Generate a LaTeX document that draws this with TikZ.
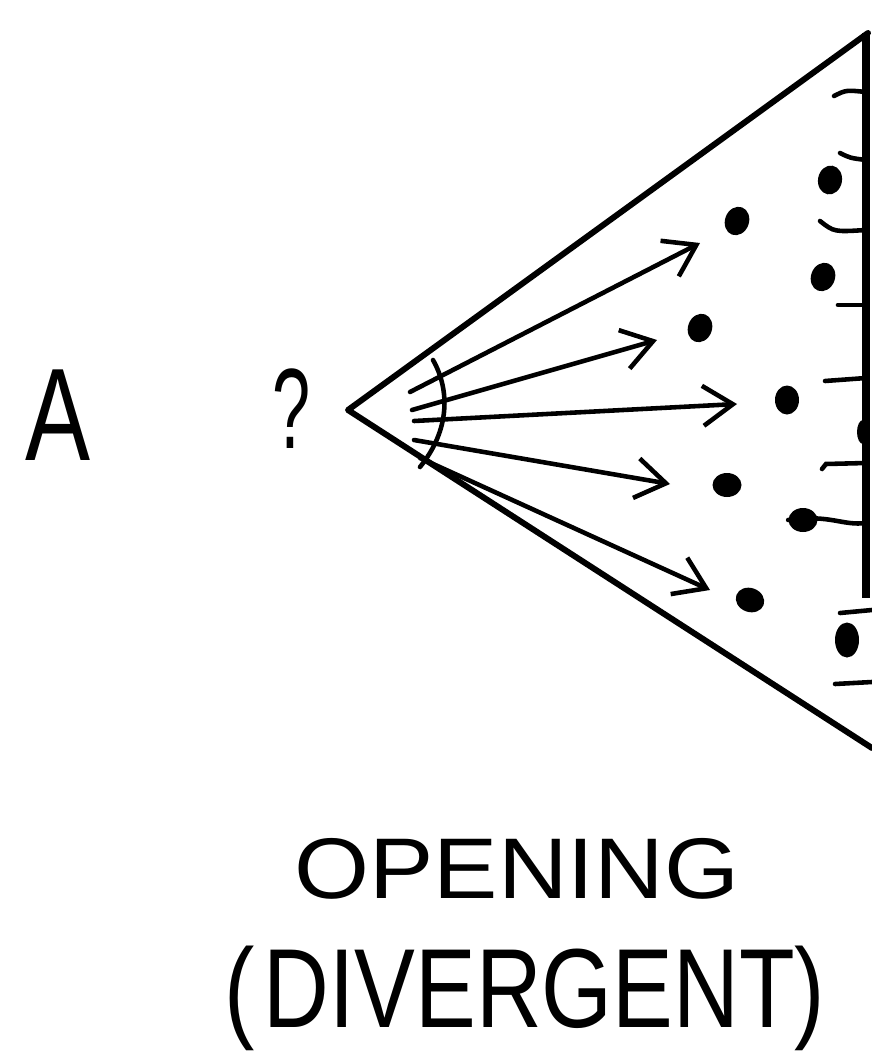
\documentclass[tikz,border=0pt]{standalone}
\usepackage{fontspec}
\setmainfont{Liberation Sans}
\usetikzlibrary{
    arrows.meta,
    shapes.geometric,
}
\tikzset{
    % Outline styles
    cone line/.style={line width=3.4pt, line cap=round, line join=round},
    wall line/.style={line width=5pt},
    wall tick/.style={line width=2.6pt, line cap=round},
    % Arrow styles
    ray/.style={line width=2.6pt, line cap=round,
                -{Straight Barb[length=6mm, width=8mm]}},
    % Dot styles
    blob/.style={ellipse, fill=black, inner sep=0pt,
                 minimum width=4.8mm, minimum height=5.8mm},
    % Text styles
    hand/.style={inner sep=0pt, anchor=base},
}

\begin{document}
\begin{tikzpicture}[x=0.02cm, y=-0.02cm]
    \useasboundingbox (0,0) rectangle (872,1058);

    % Cone
    \coordinate (apex) at (348,410);
    \coordinate (cone top) at (868,33);
    \coordinate (cone bottom) at (872,748);
    \draw[cone line] (cone top) -- (apex) -- (cone bottom);

    % Wall on the right
    \coordinate (wall top) at (866,33);
    \coordinate (wall bottom) at (866,598);
    \draw[wall line] (wall top) -- (wall bottom);
    \fill (863,432) ellipse (6 and 12);

    \draw[wall tick] (866,92) .. controls (846,90) .. (834,96);
    \draw[wall tick] (866,160) .. controls (850,158) .. (840,153);
    \draw[wall tick] (866,230) .. controls (834,232) .. (820,221);
    \draw[wall tick] (866,305) -- (838,305);
    \draw[wall tick] (866,378) -- (825,381);
    \draw[wall tick] (866,463) -- (826,464) -- (822,469);
    \draw[wall tick] (872,610) -- (840,613);
    \draw[wall tick] (872,682) -- (835,684);

    % Dots
    \node[blob, rotate=-10] (d1) at (830,180) {};
    \node[blob, rotate=-20] (d2) at (737,221) {};
    \node[blob, rotate=-20] (d3) at (823,277) {};
    \node[blob, rotate=-20] (d4) at (700,328) {};
    \node[blob] (d5) at (787,400) {};
    \node[blob, rotate=90] (d6) at (727,485) {};
    \node[blob, rotate=90] (d7) at (803,520) {};
    \node[blob, rotate=70] (d8) at (750,600) {};
    \node[blob, minimum height=7mm] (d9) at (847,640) {};
    \draw[wall tick] (d7.north) .. controls (830,514) and (842,526) .. (866,523);

    % Arc at the apex
    \coordinate (arc top) at (433,360);
    \coordinate (arc bottom) at (420,467);
    \draw[wall tick] (arc top) .. controls (450,390) and (450,430) .. (arc bottom);

    % Rays
    \coordinate (s1) at (410,392);  \coordinate (e1) at (700,243);
    \coordinate (s2) at (412,410);  \coordinate (e2) at (657,340);
    \coordinate (s3) at (414,421);  \coordinate (e3) at (737,404);
    \coordinate (s4) at (414,440);  \coordinate (e4) at (670,484);
    \coordinate (s5) at (420,458);  \coordinate (e5) at (710,590);
    \foreach \i in {1,...,5}
        \draw[ray] (s\i) -- (e\i);

    % Labels
    \node[hand] (letter A) at (58,460)
        {\fontsize{75}{75}\selectfont\scalebox{0.74}[1]{A}};
    \node[hand] (query) at (292,448)
        {\fontsize{65}{65}\selectfont\scalebox{0.6}[1]{?}};
    \node[hand] (title) at (517,898)
        {\fontsize{49}{49}\selectfont\scalebox{1.12}[1]{OPENING}};
    \node[hand] (subtitle) at (525,1027)
        {\fontsize{64}{64}\selectfont\scalebox{0.81}[1]{(\kern6pt DIVERGENT)}};
\end{tikzpicture}
\end{document}
